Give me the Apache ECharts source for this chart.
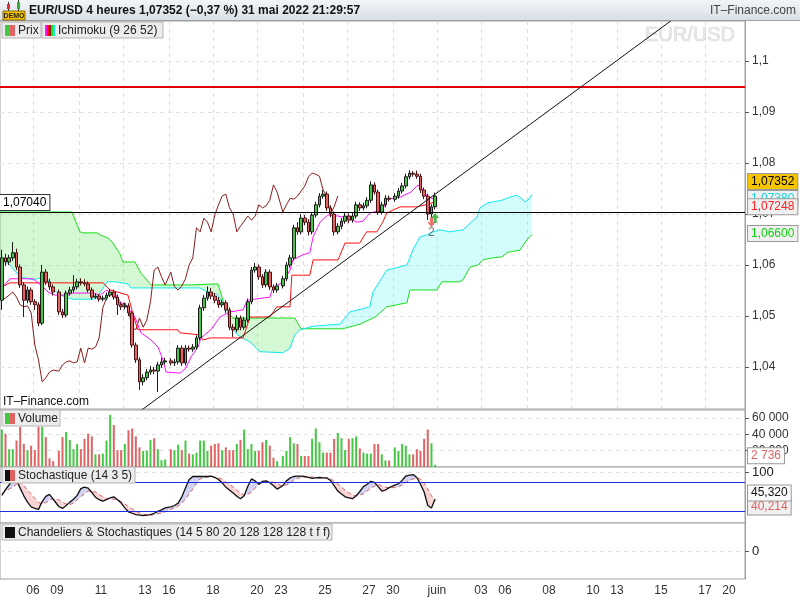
<!DOCTYPE html>
<html>
<head>
<meta charset="utf-8">
<script src="https://cdn.jsdelivr.net/npm/echarts@6/dist/echarts.min.js"></script>
<style>
html,body{margin:0;padding:0;background:#fff;}
#c{width:800px;height:600px;}
</style>
</head>
<body>
<div id="c"></div>
<script>
// ---------------- DATA ----------------
// 4-hour candles, EUR/USD, from 4 May 2022 12:00 to 31 May 2022 20:00
const open = [
1.0531,1.0614,1.0606,1.0614,1.0624,1.0596,1.0561,1.0531,1.0551,1.0528,
1.0522,1.0486,1.0586,1.0567,1.0557,1.0547,1.0508,1.0502,1.0545,1.0551,
1.0557,1.0567,1.0565,1.0563,1.0551,1.0537,1.0539,1.0533,1.0535,1.0541,
1.0547,1.0537,1.0522,1.0518,1.0520,1.0506,1.0443,1.0414,1.0371,1.0379,
1.0390,1.0394,1.0392,1.0404,1.0410,1.0412,1.0408,1.0410,1.0437,1.0408,
1.0437,1.0435,1.0439,1.0457,1.0516,1.0535,1.0547,1.0539,1.0531,1.0522,
1.0526,1.0512,1.0478,1.0473,1.0496,1.0478,1.0492,1.0528,1.0590,1.0596,
1.0577,1.0561,1.0586,1.0557,1.0551,1.0559,1.0573,1.0600,1.0614,1.0673,
1.0665,1.0692,1.0684,1.0665,1.0698,1.0718,1.0735,1.0739,1.0712,1.0700,
1.0665,1.0676,1.0686,1.0696,1.0688,1.0696,1.0718,1.0712,1.0716,1.0727,
1.0757,1.0743,1.0704,1.0718,1.0731,1.0729,1.0735,1.0745,1.0755,1.0773,
1.0780,1.0778,1.0774,1.0747,1.0735,1.0700,1.0714];
const close = [
1.0614,1.0606,1.0614,1.0624,1.0596,1.0561,1.0531,1.0551,1.0528,1.0522,
1.0486,1.0586,1.0567,1.0557,1.0547,1.0508,1.0502,1.0545,1.0551,1.0557,
1.0567,1.0565,1.0563,1.0551,1.0537,1.0539,1.0533,1.0535,1.0541,1.0547,
1.0537,1.0522,1.0518,1.0520,1.0506,1.0443,1.0414,1.0371,1.0379,1.0390,
1.0394,1.0392,1.0404,1.0410,1.0412,1.0408,1.0410,1.0437,1.0408,1.0437,
1.0435,1.0439,1.0457,1.0516,1.0535,1.0547,1.0539,1.0531,1.0522,1.0526,
1.0512,1.0478,1.0473,1.0496,1.0478,1.0492,1.0528,1.0590,1.0596,1.0577,
1.0561,1.0586,1.0557,1.0551,1.0559,1.0573,1.0600,1.0614,1.0673,1.0665,
1.0692,1.0684,1.0665,1.0698,1.0718,1.0735,1.0739,1.0712,1.0700,1.0665,
1.0676,1.0686,1.0696,1.0688,1.0696,1.0718,1.0712,1.0716,1.0727,1.0757,
1.0743,1.0704,1.0718,1.0731,1.0729,1.0735,1.0745,1.0755,1.0773,1.0780,
1.0778,1.0774,1.0747,1.0735,1.0700,1.0714,1.07352];
const high = [
1.0630,1.0622,1.0620,1.0645,1.0632,1.0601,1.0566,1.0558,1.0556,1.0533,
1.0527,1.0600,1.0592,1.0573,1.0562,1.0552,1.0514,1.0550,1.0557,1.0580,
1.0573,1.0574,1.0572,1.0568,1.0556,1.0545,1.0543,1.0540,1.0546,1.0553,
1.0552,1.0542,1.0527,1.0525,1.0525,1.0510,1.0448,1.0419,1.0386,1.0396,
1.0402,1.0400,1.0410,1.0418,1.0418,1.0417,1.0416,1.0443,1.0442,1.0443,
1.0442,1.0445,1.0462,1.0522,1.0541,1.0558,1.0555,1.0545,1.0537,1.0532,
1.0531,1.0517,1.0484,1.0502,1.0501,1.0498,1.0534,1.0596,1.0604,1.0601,
1.0582,1.0592,1.0591,1.0562,1.0565,1.0579,1.0606,1.0620,1.0679,1.0684,
1.0700,1.0698,1.0690,1.0704,1.0724,1.0741,1.0747,1.0744,1.0717,1.0705,
1.0682,1.0692,1.0702,1.0701,1.0702,1.0724,1.0723,1.0722,1.0733,1.0764,
1.0762,1.0748,1.0724,1.0737,1.0736,1.0741,1.0751,1.0761,1.0779,1.0786,
1.0784,1.0785,1.0779,1.0752,1.0740,1.0719,1.0742];
const low = [
1.0512,1.0598,1.0600,1.0608,1.0590,1.0555,1.0498,1.0525,1.0522,1.0512,
1.0480,1.0482,1.0561,1.0551,1.0540,1.0502,1.0496,1.0497,1.0540,1.0546,
1.0552,1.0560,1.0558,1.0546,1.0532,1.0533,1.0528,1.0529,1.0531,1.0537,
1.0532,1.0502,1.0512,1.0513,1.0500,1.0438,1.0408,1.0355,1.0364,1.0374,
1.0385,1.0386,1.0351,1.0398,1.0405,1.0403,1.0402,1.0405,1.0402,1.0403,
1.0430,1.0430,1.0434,1.0452,1.0510,1.0530,1.0533,1.0525,1.0516,1.0517,
1.0506,1.0472,1.0459,1.0468,1.0472,1.0473,1.0487,1.0523,1.0585,1.0571,
1.0555,1.0556,1.0551,1.0545,1.0546,1.0554,1.0568,1.0595,1.0609,1.0659,
1.0660,1.0678,1.0658,1.0660,1.0693,1.0713,1.0730,1.0706,1.0694,1.0658,
1.0660,1.0670,1.0681,1.0682,1.0683,1.0691,1.0706,1.0707,1.0711,1.0722,
1.0738,1.0698,1.0699,1.0713,1.0724,1.0724,1.0730,1.0740,1.0750,1.0768,
1.0773,1.0769,1.0741,1.0729,1.0688,1.0694,1.0709];
const volume = [
46000,40900,21900,21900,32500,49400,28300,20700,26200,20700,
49400,49400,36700,10600,7200,19800,36700,43000,33300,21900,
28300,21900,34600,40900,37600,15600,15600,16500,32500,64100,
51500,20700,20700,28300,45200,47300,37600,24100,19800,19800,
33300,35400,21900,8400,9300,21900,20700,27400,20700,32500,
16500,15600,17700,32500,32500,19800,26200,28300,29100,20700,
24100,20700,20700,28300,33300,46000,21900,28300,19800,19800,
30400,33300,26200,11400,7200,13500,19800,36700,29100,28300,
13500,13500,13500,34600,47300,30400,17700,17700,17700,34600,
41800,35400,20700,34600,35400,37600,22800,17700,16500,16500,
28300,28300,15600,8000,8000,24100,19800,28300,26200,15600,
15600,21900,19800,34600,46000,29100,2736];
// Stochastic (14 3 5): %K and %D per candle
const stochK = [
53,65,75,85,84,68,52,39,29,26,24,40,51,55,45,30,26,32,39,45,
53,67,70,68,59,49,44,41,44,48,50,44,37,27,19,16,13,12,11,12,
13,16,20,23,27,29,32,37,50,68,86,92,92,92,92,92,93,90,86,79,
70,64,58,51,46,52,72,87,83,76,82,83,79,73,66,73,83,89,92,93,
93,92,90,88,89,90,89,89,84,73,62,56,50,48,46,52,61,71,76,82,
80,71,62,64,69,74,77,84,93,95,96,90,76,60,32,27,45.32];
const stochD = [
57,61,66,70,76,82,73,64,56,47,38,36,38,43,46,44,39,35,34,37,
44,50,56,62,61,60,55,50,47,45,45,45,40,35,30,25,20,17,14,13,
12,13,15,16,19,24,27,31,37,45,56,66,78,87,89,91,92,91,90,86,
81,76,70,64,58,53,55,60,68,76,79,81,82,80,77,72,75,78,85,88,
90,91,92,91,90,89,89,89,88,82,77,70,64,58,54,52,54,56,62,68,
72,76,73,70,69,69,71,74,80,84,87,88,87,78,66,52,40.214];
// Ichimoku (9 26 52) lines as [time position (4h slots), price]
const tenkan = [[3.0,1.0551],[5.7,1.0573],[12.0,1.0573],[14.7,1.0557],[16.1,1.0547],[18.0,1.0541],[21.3,1.0541],[22.9,1.0545],[28.4,1.0545],[30.3,1.0541],[32.2,1.0551],[33.5,1.0541],[34.4,1.0543],[36.0,1.0526],[37.9,1.0516],[39.8,1.0498],[41.45,1.0467],[44.2,1.0453],[46.1,1.0439],[47.45,1.0414],[48.3,1.0390],[52.1,1.0388],[53.7,1.0398],[55.1,1.0420],[57.0,1.0439],[57.8,1.0457],[60.5,1.0473],[63.0,1.0498],[65.7,1.0508],[69.3,1.0512],[70.4,1.0531],[76.6,1.0537],[77.4,1.0555],[80.2,1.0567],[82.1,1.0590],[82.9,1.0610],[85.6,1.0620],[87.5,1.0624],[88.4,1.0655],[90.3,1.0684],[92.4,1.0698],[95.2,1.0696],[97.9,1.0692],[100.4,1.0684],[102.0,1.0686],[103.9,1.0702],[107.4,1.0708],[108.5,1.0729],[112.1,1.0733],[115.1,1.0743],[117.0,1.0757],[118.4,1.0747],[119.7,1.0733],[121.68,1.0729]];
const kijun = [[3.0,1.0555],[5.7,1.0565],[31.1,1.0565],[33.0,1.0551],[37.9,1.0541],[39.8,1.0490],[40.6,1.0473],[51.5,1.0473],[52.1,1.0467],[57.5,1.0463],[58.4,1.0453],[60.3,1.0457],[69.3,1.0457],[71.2,1.0498],[76.6,1.0498],[78.5,1.0518],[82.1,1.0518],[82.6,1.0580],[87.5,1.0580],[88.4,1.0610],[95.2,1.0610],[97.1,1.0643],[101.1,1.0643],[103.0,1.0665],[105.8,1.0665],[107.4,1.0684],[108.5,1.0702],[112.1,1.0714],[116.7,1.0714],[120.2,1.0720],[121.68,1.07248]];
const spanGreen = [[3.0,1.0704],[22.6,1.0704],[22.9,1.0702],[24.8,1.0665],[25.6,1.0663],[29.5,1.0663],[30.3,1.0659],[32.45,1.0653],[33.8,1.0643],[35.7,1.0622],[36.5,1.0606],[39.8,1.0606],[41.45,1.0584],[44.2,1.0561],[55.1,1.0561],[55.6,1.0563],[62.45,1.0563],[63.8,1.0531],[65.2,1.0508],[66.5,1.0496],[83.4,1.0496],[85.1,1.0475],[96.5,1.0475],[101.2,1.0484],[105.3,1.0498],[108.5,1.0518],[114.0,1.0526],[114.8,1.0551],[122.2,1.0551],[123.5,1.0567],[128.4,1.0567],[129.3,1.0571],[131.2,1.0596],[133.4,1.0600],[134.7,1.0610],[137.4,1.0614],[139.9,1.0616],[141.5,1.0625],[144.8,1.0629],[146.7,1.0649],[148.1,1.0660]];
const spanCyan = [[3.0,1.0614],[5.7,1.0600],[8.45,1.0577],[12.0,1.0571],[14.45,1.0575],[16.1,1.0571],[17.45,1.0551],[18.8,1.0545],[20.7,1.0537],[22.9,1.0533],[28.4,1.0533],[29.5,1.0537],[32.2,1.0567],[34.4,1.0567],[37.9,1.0563],[38.7,1.0555],[57.5,1.0555],[59.7,1.0547],[62.2,1.0543],[64.9,1.0512],[65.7,1.0478],[68.45,1.0459],[71.2,1.0449],[73.9,1.0430],[80.2,1.0428],[82.1,1.0437],[83.4,1.0463],[84.8,1.0473],[88.4,1.0480],[95.7,1.0484],[98.4,1.0508],[103.9,1.0518],[104.7,1.0547],[108.5,1.0590],[114.0,1.0600],[115.6,1.0629],[117.5,1.0655],[119.4,1.0659],[121.1,1.0665],[123.0,1.0669],[125.7,1.0665],[129.3,1.0669],[130.6,1.0678],[133.1,1.0694],[133.9,1.0712],[136.1,1.0722],[139.9,1.0727],[142.1,1.0733],[144.0,1.0737],[145.1,1.0731],[146.2,1.0724],[147.0,1.0727],[148.1,1.0738]];
const CHIKOU_SHIFT = 26;
// drawn objects (in data units)
const trendLine = [[40,1.0307],[190,1.1100]];
const resistanceLevel = 1.0949;
const horizontalLevel = 1.0704;
const signalDown = [[115,1.0684]];
const signalUp = [[116,1.0692]];
const signalText = [[115,1.0664,'2']];
const stochLevels = [80,20];
// axis ticks
const priceTicks = [1.04,1.05,1.06,1.07,1.08,1.09,1.10];
const volumeTicks = [20000,40000,60000];
const tickLabels = ['06','09','11','13','16','18','20','23','25','27','30','juin','03','06','08','10','13','15','17','20'];
const tickDays   = [2,3,5,7,8,10,12,13,15,17,18,20,22,23,25,27,28,30,32,33];
const gridDays   = [2,4,6,8,10,12,14,16,18,20,22,24,26,28,30,32];

// ---------------- TIME SCALE HELPERS ----------------
const FIRST_SLOT = 3, SLOTS_PER_DAY = 6, WEEKEND_GAP = 0.545;
const X_MIN = 3, X_MAX = 206.2;
function weekendsBefore(d){ return d < 3 ? 0 : Math.floor((d - 3) / 5) + 1; }
function dayStart(d){ return d * SLOTS_PER_DAY + weekendsBefore(d) * WEEKEND_GAP; }
function candleX(i){ const g = i + FIRST_SLOT; const d = Math.floor(g / SLOTS_PER_DAY); return dayStart(d) + (g - d * SLOTS_PER_DAY) + 0.5; }

const FONT = "'Liberation Sans', Arial, sans-serif";
const UP = '#44c844', DOWN = '#e06464';

const candles = open.map((o, i) => [candleX(i), o, close[i], low[i], high[i]]);
const volData = volume.map((v, i) => ({value: [candleX(i), v], itemStyle: {color: close[i] >= open[i] ? UP : DOWN}}));
const chikou = [];
for (let i = CHIKOU_SHIFT; i < close.length; i++) chikou.push([candleX(i - CHIKOU_SHIFT), close[i]]);
const kLine = stochK.map((v, i) => [candleX(i), v]);
const dLine = stochD.map((v, i) => [candleX(i), v]);

const labelPos = tickDays.map(dayStart);
const labelMap = {};
labelPos.forEach((p, k) => { labelMap[p.toFixed(3)] = tickLabels[k]; });
const gridPos = gridDays.map(dayStart);

const last = a => a[a.length - 1];
const fmtPrice = v => v.toFixed(5).replace('.', ',');

function boxLabel(text, color, bg, dy) {
  return {show: true, position: 'end', distance: 3, formatter: text, color: color,
    backgroundColor: bg, borderColor: '#9a9a9a', borderWidth: 1, padding: [2, 3, 1, 3],
    fontSize: 12, fontFamily: FONT, offset: [0, dy]};
}
const hidden = {color: 'rgba(0,0,0,0)', width: 0};
function markLines(data) {
  return {silent: true, symbol: ['none', 'none'], animation: false, precision: 6, data: data};
}

const GRID_COMMON = {left: 0, right: 55, show: true, borderColor: '#a0a0a0', borderWidth: 1, backgroundColor: '#fff'};
const grids = [
  Object.assign({top: 21, height: 388}, GRID_COMMON),
  Object.assign({top: 410, height: 57}, GRID_COMMON),
  Object.assign({top: 467, height: 56}, GRID_COMMON),
  Object.assign({top: 523, height: 56}, GRID_COMMON)
];
const xAxes = grids.map((g, k) => ({
  type: 'value', gridIndex: k, min: X_MIN, max: X_MAX,
  axisLine: {show: false},
  axisTick: {show: false, customValues: gridPos},
  splitLine: {show: k === 0, lineStyle: {color: '#dedede', type: [4, 4]}},
  axisLabel: k === 3 ? {show: true, customValues: labelPos, color: '#333', fontSize: 12, fontFamily: FONT, margin: 6,
      formatter: v => labelMap[v.toFixed(3)] || ''} : {show: false}
}));
const yCommon = {
  type: 'value', position: 'right',
  axisLine: {show: true, lineStyle: {color: '#a0a0a0'}},
  axisTick: {show: true, length: 4, lineStyle: {color: '#555'}},
  splitLine: {show: true, lineStyle: {color: '#e2e2e2', type: [4, 4]}}
};
const yAxes = [
  Object.assign({}, yCommon, {gridIndex: 0, min: 1.031765, max: 1.107843,
    axisTick: {show: true, length: 4, customValues: priceTicks, lineStyle: {color: '#555'}},
    axisLabel: {customValues: priceTicks, color: '#333', fontSize: 12, fontFamily: FONT, margin: 7,
      formatter: v => String(+v.toFixed(2)).replace('.', ',')}}),
  Object.assign({}, yCommon, {gridIndex: 1, min: 0, max: 70000,
    axisTick: {show: true, length: 4, customValues: volumeTicks, lineStyle: {color: '#555'}},
    axisLabel: {customValues: volumeTicks, color: '#333', fontSize: 12, fontFamily: FONT, margin: 7,
      formatter: v => String(v).replace(/\B(?=(\d{3})+(?!\d))/g, ' ')}}),
  Object.assign({}, yCommon, {gridIndex: 2, min: -4.2, max: 111.7,
    axisTick: {show: true, length: 4, customValues: [100], lineStyle: {color: '#555'}},
    axisLabel: {customValues: [100], color: '#222', fontSize: 13, fontFamily: FONT, margin: 7}}),
  Object.assign({}, yCommon, {gridIndex: 3, min: -1, max: 1,
    axisTick: {show: true, length: 4, customValues: [0], lineStyle: {color: '#555'}},
    axisLabel: {customValues: [0], color: '#222', fontSize: 13, fontFamily: FONT, margin: 7}})
];

const SW_GREEN = 85.1, SW_CYAN = 84.8;
function cloudPolygon(regime, api) {
  let pts;
  if (regime === 0) {
    pts = spanGreen.filter(p => p[0] <= SW_GREEN).concat(spanCyan.filter(p => p[0] <= SW_GREEN).reverse());
  } else {
    pts = spanCyan.filter(p => p[0] >= SW_CYAN).concat(spanGreen.filter(p => p[0] >= SW_CYAN).reverse());
  }
  return pts.map(p => api.coord(p));
}

const series = [
  { // Kumo fill
    type: 'custom', xAxisIndex: 0, yAxisIndex: 0, z: 1, silent: true,
    data: [[X_MIN + 1, 0], [100, 1]],
    encode: {x: 0, y: 1},
    renderItem: (params, api) => {
      const regime = api.value(1);
      return {type: 'polygon', shape: {points: cloudPolygon(regime, api)},
        style: {fill: regime === 0 ? 'rgba(120,230,120,0.32)' : 'rgba(110,245,245,0.30)', stroke: null}};
    }
  },
  {type: 'line', name: 'spanGreen', data: spanGreen, xAxisIndex: 0, yAxisIndex: 0, showSymbol: false, z: 3,
    lineStyle: {color: '#18e018', width: 1}},
  {type: 'line', name: 'spanCyan', data: spanCyan, xAxisIndex: 0, yAxisIndex: 0, showSymbol: false, z: 3,
    lineStyle: {color: '#10e8f0', width: 1},
    markLine: markLines([
      {yAxis: last(spanCyan)[1], lineStyle: hidden, label: boxLabel(fmtPrice(last(spanCyan)[1]), '#18d8e8', '#f0f0f0', 4)}
    ])},
  {type: 'line', name: 'chikou', data: chikou, xAxisIndex: 0, yAxisIndex: 0, showSymbol: false, z: 3,
    lineStyle: {color: '#8b1c1c', width: 1}},
  {type: 'line', name: 'kijun', data: kijun, xAxisIndex: 0, yAxisIndex: 0, showSymbol: false, z: 3,
    lineStyle: {color: '#ff1010', width: 1},
    markLine: markLines([
      {yAxis: last(kijun)[1], lineStyle: hidden, label: boxLabel(fmtPrice(last(kijun)[1]), '#ff2020', '#f0f0f0', 5.5)}
    ])},
  {type: 'line', name: 'tenkan', data: tenkan, xAxisIndex: 0, yAxisIndex: 0, showSymbol: false, z: 3,
    lineStyle: {color: '#ff10ff', width: 1}},
  {type: 'candlestick', name: 'Prix', data: candles, xAxisIndex: 0, yAxisIndex: 0, z: 4,
    encode: {x: 0, y: [1, 2, 3, 4]}, barWidth: 3,
    itemStyle: {color: UP, color0: DOWN, borderColor: '#1a1a1a', borderColor0: '#4a1010', borderWidth: 1}},
  {type: 'line', name: 'trend', data: trendLine, xAxisIndex: 0, yAxisIndex: 0, showSymbol: false, z: 5,
    lineStyle: {color: '#111', width: 1},
    markLine: markLines([
      {yAxis: resistanceLevel, lineStyle: {color: '#e00000', width: 2, type: 'solid'}, label: {show: false}},
      {yAxis: horizontalLevel, lineStyle: {color: '#000', width: 1, type: 'solid'},
        label: {show: true, position: 'insideStartTop', distance: [0, 2], formatter: fmtPrice(horizontalLevel),
          color: '#000', backgroundColor: '#fff', borderColor: '#333', borderWidth: 1, padding: [2, 3, 1, 3],
          fontSize: 12, fontFamily: FONT}},
      {yAxis: last(spanGreen)[1], lineStyle: hidden, label: boxLabel(fmtPrice(last(spanGreen)[1]), '#10d010', '#f0f0f0', -1)},
      {yAxis: last(close), lineStyle: hidden, label: boxLabel(fmtPrice(last(close)), '#000', '#f5c400', -14.5)}
    ])},
  {type: 'scatter', data: signalDown.map(p => [candleX(p[0]), p[1]]), xAxisIndex: 0, yAxisIndex: 0, z: 6,
    symbol: 'path://M5,0L10,5L7,5L7,10L3,10L3,5L0,5Z', symbolSize: [8, 10], symbolRotate: 180,
    itemStyle: {color: '#e85050'}},
  {type: 'scatter', data: signalUp.map(p => [candleX(p[0]), p[1]]), xAxisIndex: 0, yAxisIndex: 0, z: 6,
    symbol: 'path://M5,0L10,5L7,5L7,10L3,10L3,5L0,5Z', symbolSize: [8, 10],
    itemStyle: {color: '#22a822'}},
  {type: 'scatter', data: signalText.map(p => [candleX(p[0]), p[1], p[2]]), xAxisIndex: 0, yAxisIndex: 0, z: 6,
    symbolSize: 0, label: {show: true, position: 'inside', formatter: p => p.value[2], color: '#555', fontSize: 12, fontFamily: FONT}},
  // Volume
  {type: 'bar', data: volData, xAxisIndex: 1, yAxisIndex: 1, barWidth: 2,
    markLine: markLines([
      {yAxis: last(volume), lineStyle: hidden, label: boxLabel(String(last(volume)).replace(/\B(?=(\d{3})+(?!\d))/g, ' '), '#e06060', '#fff', -9)}
    ])},
  // Stochastic fill
  {type: 'custom', xAxisIndex: 2, yAxisIndex: 2, z: 1, silent: true,
    data: stochK.slice(0, -1).map((v, i) => [candleX(i), i]),
    encode: {x: 0, y: 1},
    renderItem: (params, api) => {
      const i = api.value(1);
      const x0 = candleX(i), x1 = candleX(i + 1);
      const up = (stochK[i] + stochK[i + 1]) >= (stochD[i] + stochD[i + 1]);
      return {type: 'polygon', shape: {points: [
        api.coord([x0, stochK[i]]), api.coord([x1, stochK[i + 1]]),
        api.coord([x1, stochD[i + 1]]), api.coord([x0, stochD[i]])]},
        style: {fill: up ? '#cfd0f2' : '#f7d3d3', stroke: null}};
    }},
  {type: 'line', data: dLine, xAxisIndex: 2, yAxisIndex: 2, showSymbol: false, z: 3,
    lineStyle: {color: '#e06060', width: 1, type: [4, 3]},
    markLine: markLines([
      {yAxis: last(stochD), lineStyle: hidden, label: boxLabel(last(stochD).toFixed(3).replace('.', ','), '#e06060', '#f0f0f0', 5.5)}
    ])},
  {type: 'line', data: kLine, xAxisIndex: 2, yAxisIndex: 2, showSymbol: false, z: 4,
    lineStyle: {color: '#111', width: 1.3},
    markLine: markLines([
      {yAxis: stochLevels[0], lineStyle: {color: '#1c2ee0', width: 1, type: 'solid'}, label: {show: false}},
      {yAxis: stochLevels[1], lineStyle: {color: '#1c2ee0', width: 1, type: 'solid'}, label: {show: false}},
      {yAxis: last(stochK), lineStyle: hidden, label: boxLabel(last(stochK).toFixed(3).replace('.', ','), '#111', '#fafafa', -6)}
    ])}
];

// ---------------- DECORATION ----------------
function legendBox(x, y, w, text, swatch) {
  const els = [{type: 'rect', shape: {x: x, y: y, width: w, height: 16}, style: {fill: '#ececec', stroke: '#b4b4b4', lineWidth: 1}, z: 100}];
  const n = swatch.length, sw = 10 / n;
  swatch.forEach((c, k) => els.push({type: 'rect', shape: {x: x + 3 + k * sw, y: y + 3, width: sw, height: 11}, style: {fill: c}, z: 101}));
  els.push({type: 'text', x: x + 16, y: y + 8.5, style: {text: text, fill: '#222', font: '12px ' + FONT, verticalAlign: 'middle'}, z: 101});
  return els;
}
const graphic = [
  {type: 'rect', shape: {x: 0, y: 0, width: 800, height: 21}, z: 90,
    style: {fill: new echarts.graphic.LinearGradient(0, 0, 0, 1, [{offset: 0, color: '#f2f5f8'}, {offset: 1, color: '#d8dee5'}])}},
  {type: 'line', shape: {x1: 0, y1: 20.5, x2: 800, y2: 20.5}, style: {stroke: '#a0a0a0'}, z: 91},
  {type: 'rect', shape: {x: 3, y: 11, width: 22, height: 9}, style: {fill: '#f2c200', stroke: '#8a6d00'}, z: 92},
  {type: 'text', x: 14, y: 15.8, style: {text: 'DEMO', fill: '#222', font: 'bold 7px ' + FONT, align: 'center', verticalAlign: 'middle'}, z: 93},
  {type: 'line', shape: {x1: 8.5, y1: 2, x2: 8.5, y2: 11}, style: {stroke: '#333'}, z: 92},
  {type: 'rect', shape: {x: 7, y: 4, width: 3, height: 5}, style: {fill: '#e03030'}, z: 93},
  {type: 'line', shape: {x1: 18.5, y1: 0, x2: 18.5, y2: 11}, style: {stroke: '#333'}, z: 92},
  {type: 'rect', shape: {x: 17, y: 2, width: 3, height: 7}, style: {fill: '#30b030'}, z: 93},
  {type: 'text', x: 29, y: 11, style: {text: 'EUR/USD 4 heures 1,07352 (\u22120,37 %) 31 mai 2022 21:29:57', fill: '#111', font: 'bold 12px ' + FONT, verticalAlign: 'middle'}, z: 92},
  {type: 'text', x: 796, y: 11, style: {text: 'IT\u2013Finance.com', fill: '#444', font: '12px ' + FONT, align: 'right', verticalAlign: 'middle'}, z: 92},
  {type: 'text', x: 645, y: 35, style: {text: 'EUR/USD', fill: '#e6e6e6', stroke: '#cdcdcd', lineWidth: 0.6, font: '20px ' + FONT, verticalAlign: 'middle'}, z: 5},
  {type: 'text', x: 3, y: 402, style: {text: 'IT\u2013Finance.com', fill: '#111', font: '12px ' + FONT, verticalAlign: 'middle'}, z: 92}
]
  .concat(legendBox(2, 22, 39, 'Prix', ['#44c844', '#e06464']))
  .concat(legendBox(42, 22, 121, 'Ichimoku (9 26 52)', ['#ff10ff', '#ff1010', '#8b1c1c', '#18e018', '#10e8f0']))
  .concat(legendBox(2, 410, 58, 'Volume', ['#44c844', '#e06464']))
  .concat(legendBox(2, 467, 133, 'Stochastique (14 3 5)', ['#111', '#e06060']))
  .concat(legendBox(2, 524, 330, 'Chandeliers & Stochastiques (14 5 80 20 128 128 128 t f f)', ['#111']));

const chart = echarts.init(document.getElementById('c'), null, {renderer: 'canvas', width: 800, height: 600});
chart.setOption({
  animation: false,
  backgroundColor: '#fff',
  textStyle: {fontFamily: FONT},
  grid: grids,
  xAxis: xAxes,
  yAxis: yAxes,
  series: series,
  graphic: graphic
});
</script>
</body>
</html>
